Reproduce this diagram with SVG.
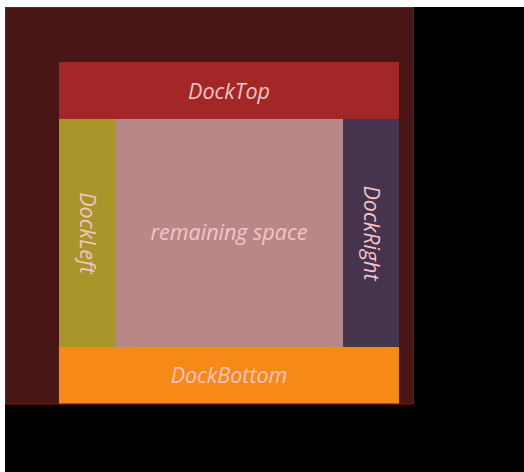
<svg xmlns="http://www.w3.org/2000/svg" width="524" height="472" viewBox="0 0 524 472">
<style>
.lbl{font-family:"Open Sans","DejaVu Sans",sans-serif;font-style:italic;font-size:21.5px;fill:#f6c4c4;text-anchor:middle}
</style>
<rect x="0" y="0" width="524" height="472" fill="#ffffff"/>
<rect x="5" y="7" width="519" height="465" fill="#000000"/>
<g id="container">
<rect x="5.5" y="7.5" width="408" height="396.5" fill="#491616" stroke="#b00000" stroke-width="1"/>
</g>
<g id="docktop">
<rect x="59" y="62" width="340" height="57" fill="#a32727"/>
<text class="lbl" x="229" y="99">DockTop</text>
</g>
<g id="dockleft">
<rect x="59" y="119" width="57" height="228" fill="#a8962b"/>
<text class="lbl" transform="translate(80 233) rotate(90)" x="0" y="0">DockLeft</text>
</g>
<g id="remaining">
<rect x="116" y="119" width="227" height="228" fill="#b88888"/>
<text class="lbl" x="229" y="240">remaining space</text>
</g>
<g id="dockright">
<rect x="343" y="119" width="56" height="228" fill="#46334e"/>
<text class="lbl" transform="translate(364 233) rotate(90)" x="0" y="0">DockRight</text>
</g>
<g id="dockbottom">
<rect x="59" y="347" width="340" height="56.5" fill="#f78a17"/>
<text class="lbl" x="229" y="383">DockBottom</text>
</g>
<g id="connectors"/>
</svg>
